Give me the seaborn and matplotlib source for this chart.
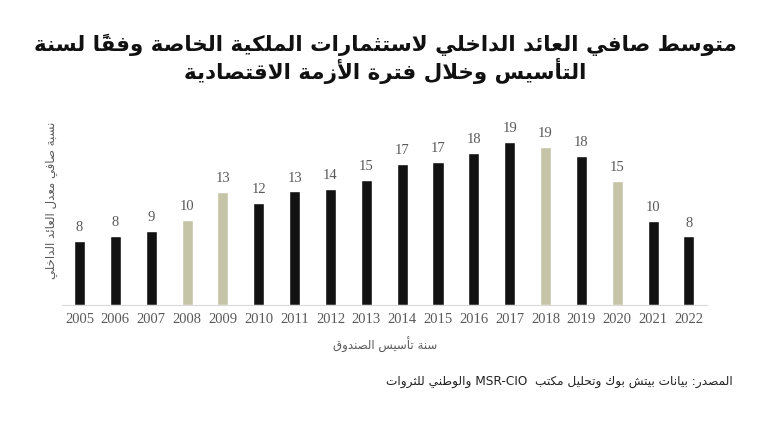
import matplotlib
matplotlib.use("Agg")
import matplotlib.pyplot as plt
import seaborn as sns

years = [str(y) for y in range(2005, 2023)]
irr = [7.6, 8.2, 8.7, 10.0, 13.3, 12.1, 13.4, 13.7, 14.8, 16.6,
       16.9, 17.9, 19.2, 18.7, 17.6, 14.6, 9.9, 8.1]
crisis_years = ["2008", "2009", "2018", "2020"]

title_1 = "متوسط صافي العائد الداخلي لاستثمارات الملكية الخاصة وفقاً لسنة"
title_2 = "التأسيس وخلال فترة الأزمة الاقتصادية"
y_title = "نسبة صافي معدل العائد الداخلي"
x_title = "سنة تأسيس الصندوق"
source = "المصدر: بيانات بيتش بوك وتحليل مكتب  MSR-CIO والوطني للثروات"

# --- minimal arabic shaping (matplotlib has no text layout engine) ---
FORMS = {
    "ء": (0xFE80,), "آ": (0xFE81, 0xFE82), "أ": (0xFE83, 0xFE84),
    "ؤ": (0xFE85, 0xFE86), "إ": (0xFE87, 0xFE88), "ئ": (0xFE89, 0xFE8A, 0xFE8B, 0xFE8C),
    "ا": (0xFE8D, 0xFE8E), "ب": (0xFE8F, 0xFE90, 0xFE91, 0xFE92), "ة": (0xFE93, 0xFE94),
    "ت": (0xFE95, 0xFE96, 0xFE97, 0xFE98), "ث": (0xFE99, 0xFE9A, 0xFE9B, 0xFE9C),
    "ج": (0xFE9D, 0xFE9E, 0xFE9F, 0xFEA0), "ح": (0xFEA1, 0xFEA2, 0xFEA3, 0xFEA4),
    "خ": (0xFEA5, 0xFEA6, 0xFEA7, 0xFEA8), "د": (0xFEA9, 0xFEAA), "ذ": (0xFEAB, 0xFEAC),
    "ر": (0xFEAD, 0xFEAE), "ز": (0xFEAF, 0xFEB0), "س": (0xFEB1, 0xFEB2, 0xFEB3, 0xFEB4),
    "ش": (0xFEB5, 0xFEB6, 0xFEB7, 0xFEB8), "ص": (0xFEB9, 0xFEBA, 0xFEBB, 0xFEBC),
    "ض": (0xFEBD, 0xFEBE, 0xFEBF, 0xFEC0), "ط": (0xFEC1, 0xFEC2, 0xFEC3, 0xFEC4),
    "ظ": (0xFEC5, 0xFEC6, 0xFEC7, 0xFEC8), "ع": (0xFEC9, 0xFECA, 0xFECB, 0xFECC),
    "غ": (0xFECD, 0xFECE, 0xFECF, 0xFED0), "ف": (0xFED1, 0xFED2, 0xFED3, 0xFED4),
    "ق": (0xFED5, 0xFED6, 0xFED7, 0xFED8), "ك": (0xFED9, 0xFEDA, 0xFEDB, 0xFEDC),
    "ل": (0xFEDD, 0xFEDE, 0xFEDF, 0xFEE0), "م": (0xFEE1, 0xFEE2, 0xFEE3, 0xFEE4),
    "ن": (0xFEE5, 0xFEE6, 0xFEE7, 0xFEE8), "ه": (0xFEE9, 0xFEEA, 0xFEEB, 0xFEEC),
    "و": (0xFEED, 0xFEEE), "ى": (0xFEEF, 0xFEF0), "ي": (0xFEF1, 0xFEF2, 0xFEF3, 0xFEF4),
}
LAM_ALEF = {"ا": (0xFEFB, 0xFEFC), "أ": (0xFEF7, 0xFEF8),
            "إ": (0xFEF9, 0xFEFA), "آ": (0xFEF5, 0xFEF6)}


def is_mark(c):
    return 0x064B <= ord(c) <= 0x0652


def shape(text):
    # group into clusters: base char + marks
    clusters = []
    for c in text:
        if is_mark(c) and clusters:
            clusters[-1][1] += c
        else:
            clusters.append([c, ""])
    out = []
    i = 0
    n = len(clusters)

    def dual(c):
        return c in FORMS and len(FORMS[c]) == 4

    while i < n:
        c, marks = clusters[i]
        prev_join = i > 0 and dual(clusters[i - 1][0]) and c in FORMS
        if c == "ل" and i + 1 < n and clusters[i + 1][0] in LAM_ALEF:
            lig = LAM_ALEF[clusters[i + 1][0]]
            out.append([chr(lig[1] if prev_join else lig[0]), marks + clusters[i + 1][1], True])
            i += 2
            continue
        if c in FORMS:
            f = FORMS[c]
            next_join = dual(c) and i + 1 < n and clusters[i + 1][0] in FORMS
            if len(f) == 1:
                g = f[0]
            elif prev_join and next_join:
                g = f[3]
            elif next_join:
                g = f[2]
            elif prev_join:
                g = f[1]
            else:
                g = f[0]
            out.append([chr(g), marks, True])
        else:
            ltr = c.isascii() and (c.isalnum() or c == "-")
            out.append([c, marks, not ltr])
        i += 1
    # visual order: reverse, keeping latin runs left-to-right
    tokens = []
    for g, marks, rtl in out:
        if not rtl and tokens and not tokens[-1][1]:
            tokens[-1][0] += g
        else:
            tokens.append([g + marks, rtl])
    return "".join(t[0] for t in reversed(tokens))


sns.set_style("white")
plt.rcParams["font.family"] = ["DejaVu Sans"]

fig = plt.figure(figsize=(7.7, 4.25), dpi=100)
ax = fig.add_axes([0.080, 0.282, 0.838, 0.459])

colors = ["#c6c4a6" if y in crisis_years else "#121212" for y in years]
sns.barplot(x=years, y=irr, hue=years, palette=colors, legend=False,
            width=0.31, saturation=1, ax=ax)

for cont, v in zip(ax.containers, irr):
    ax.bar_label(cont, labels=[f"{v:.0f}"], padding=5, color="#595959",
                 fontsize=10.5, family="Liberation Serif")

ax.set_xlim(-0.5, len(years) - 0.5)
ax.set_ylim(0, 23)
ax.set_yticks([])
sns.despine(ax=ax, left=True)
ax.spines["bottom"].set_color("#d9d9d9")
ax.tick_params(axis="x", length=0, pad=6, labelcolor="#595959", labelsize=10.5)
for lab in ax.get_xticklabels():
    lab.set_family("Liberation Serif")
ax.set_xlabel("")
ax.set_ylabel("")

fig.text(0.5, 1 - 45 / 425, shape(title_1), ha="center", va="center",
         fontsize=15.4, fontweight="bold", color="#111111")
fig.text(0.5, 1 - 71 / 425, shape(title_2), ha="center", va="center",
         fontsize=15.4, fontweight="bold", color="#111111")
fig.text(52 / 770, 1 - 200 / 425, shape(y_title), rotation=90, ha="center",
         va="center", fontsize=8.5, color="#595959")
fig.text(0.5, 1 - 345 / 425, shape(x_title), ha="center", va="center",
         fontsize=8.5, color="#595959")
fig.text(733 / 770, 1 - 381 / 425, shape(source), ha="right", va="center",
         fontsize=8.7, color="#222222")

fig.savefig("out.png", dpi=100)
